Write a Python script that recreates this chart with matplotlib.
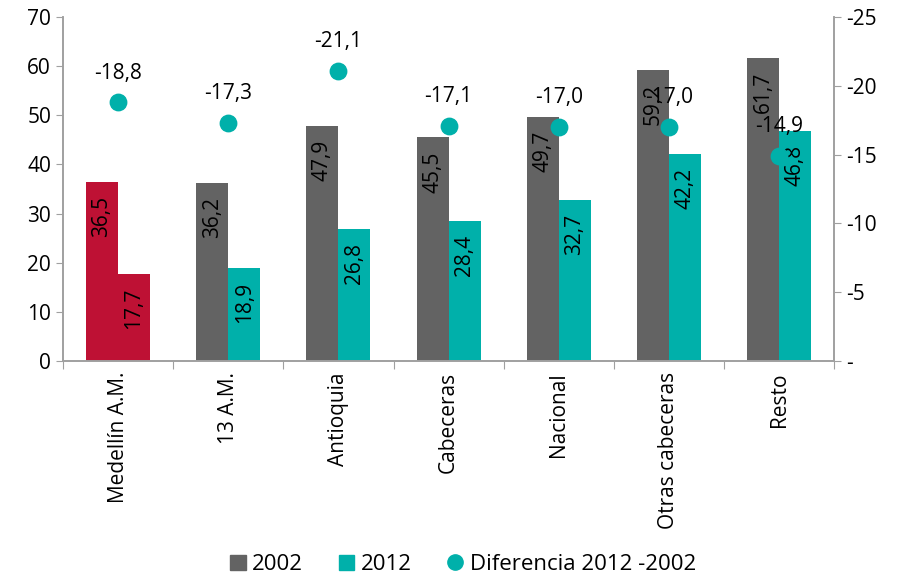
import numpy as np
import matplotlib.pyplot as plt
from matplotlib.lines import Line2D
from matplotlib.patches import Patch
from matplotlib.ticker import FuncFormatter

plt.rcParams['font.family'] = ['Open Sans', 'DejaVu Sans']

categorias = ["Medellín A.M.", "13 A.M.", "Antioquia", "Cabeceras", "Nacional",
              "Otras cabeceras", "Resto"]
v2002 = [36.5, 36.2, 47.9, 45.5, 49.7, 59.2, 61.7]
v2012 = [17.7, 18.9, 26.8, 28.4, 32.7, 42.2, 46.8]
diferencia = [-18.8, -17.3, -21.1, -17.1, -17.0, -17.0, -14.9]

GRIS = "#636363"
TEAL = "#00B0AA"
ROJO = "#BE1134"
EJE = "#A0A0A0"
FS = 15

fig = plt.figure(figsize=(8.99, 5.79), dpi=100)
ax = fig.add_axes([0.070, 0.3765, 0.858, 0.594])
ax2 = ax.twinx()

x = np.arange(len(categorias))
w = 0.29
c2002 = [ROJO] + [GRIS] * (len(x) - 1)
c2012 = [ROJO] + [TEAL] * (len(x) - 1)
b1 = ax.bar(x - w / 2, v2002, w, color=c2002, zorder=2)
b2 = ax.bar(x + w / 2, v2012, w, color=c2012, zorder=2)

# etiquetas dentro de las barras
for bars, vals in ((b1, v2002), (b2, v2012)):
    for b, v in zip(bars, vals):
        ax.annotate(f"{v:.1f}".replace(".", ","),
                    (b.get_x() + b.get_width() / 2, v),
                    xytext=(0, -10), textcoords="offset points",
                    rotation=90, ha="center", va="top", fontsize=FS, zorder=5)

ax.set_xlim(-0.5, len(x) - 0.5)
ax.set_ylim(0, 70)
ax.set_yticks(range(0, 71, 10))
ax.set_xticks(np.arange(-0.5, len(x), 1.0), minor=False)
ax.set_xticklabels([])
ax.set_xticks(x, minor=True)
ax.set_xticklabels(categorias, minor=True, rotation=90, fontsize=FS)
ax.tick_params(axis="x", which="minor", length=0, pad=8)
ax.tick_params(axis="x", which="major", length=6, color=EJE)
ax.tick_params(axis="y", length=5, color=EJE, labelsize=FS)

# diferencia en eje secundario invertido
ax2.scatter(x, diferencia, s=140, color=TEAL, zorder=4)
for xi, d in zip(x, diferencia):
    ax2.annotate(f"{d:.1f}".replace(".", ","), (xi, d), xytext=(0, 21),
                 textcoords="offset points", ha="center", va="center",
                 fontsize=FS, zorder=6)
ax2.set_ylim(0, -25)
ax2.set_yticks(range(0, -26, -5))
ax2.yaxis.set_major_formatter(FuncFormatter(lambda v, p: "-" if v == 0 else f"{v:.0f}"))
ax2.tick_params(axis="y", length=5, color=EJE, labelsize=FS)

for a in (ax, ax2):
    a.spines["top"].set_visible(False)
    for s in ("left", "right", "bottom"):
        a.spines[s].set_color(EJE)
        a.spines[s].set_linewidth(1.2)

handles = [Patch(color=GRIS, label="2002"), Patch(color=TEAL, label="2012"),
           Line2D([], [], marker="o", color=TEAL, linestyle="", markersize=11,
                  label="Diferencia 2012 -2002")]
fig.legend(handles=handles, loc="lower center", bbox_to_anchor=(0.515, -0.028),
           ncol=3, frameon=False, handlelength=0.7, handletextpad=0.3,
           columnspacing=1.6, fontsize=16)

fig.savefig("out.png", dpi=100)
